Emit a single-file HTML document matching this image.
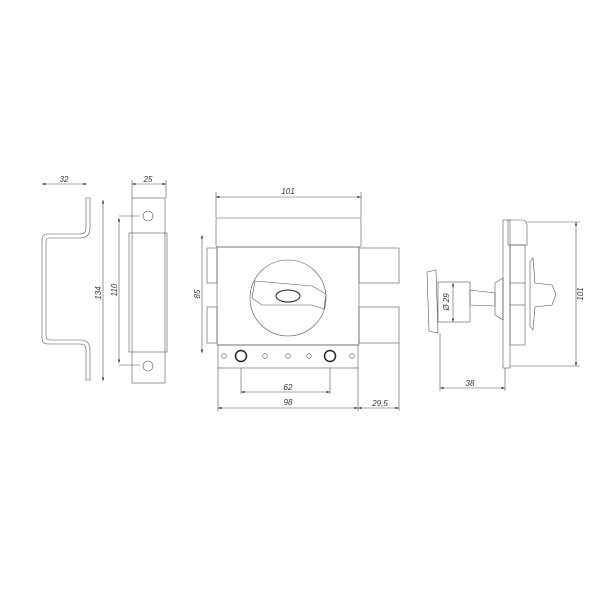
<!DOCTYPE html>
<html><head><style>body{margin:0;background:#fff}svg{display:block}</style></head><body>
<svg width="600" height="600" viewBox="0 0 600 600" xmlns="http://www.w3.org/2000/svg" font-family="Liberation Sans, sans-serif" font-size="8" font-style="italic" fill="none" stroke="#333" stroke-width="0.8">
<defs><marker id="a" viewBox="0 0 6 4" refX="6" refY="2" markerWidth="6" markerHeight="4" orient="auto-start-reverse"><path d="M0,0L6,2L0,4z" fill="#333" stroke="none"/></marker></defs>
<g stroke="#555" stroke-width="0.6">
<path d="M86,198 L86,228 Q86,234 80,234 L48,234 Q42,234 42,240 L42,338 Q42,344 48,344 L80,344 Q86,344 86,350 L86,380 L90,380 L90,350 Q90,340 80,340 L50,340 Q46,340 46,336 L46,242 Q46,238 50,238 L80,238 Q90,238 90,228 L90,198 Z"/>
<line x1="42" y1="184" x2="87" y2="184" marker-start="url(#a)" marker-end="url(#a)"/>
<line x1="103" y1="200" x2="103" y2="381" marker-start="url(#a)" marker-end="url(#a)"/>
<rect x="132" y="198" width="33" height="185"/>
<rect x="129" y="233" width="38" height="119"/>
<circle cx="148" cy="216" r="5"/><circle cx="148" cy="366" r="5"/>
<line x1="132" y1="184" x2="166" y2="184" marker-start="url(#a)" marker-end="url(#a)"/>
<line x1="132" y1="180" x2="132" y2="198"/><line x1="166" y1="180" x2="166" y2="198"/>
<line x1="119" y1="218" x2="119" y2="363" marker-start="url(#a)" marker-end="url(#a)"/>
<line x1="119" y1="216" x2="140" y2="216"/><line x1="119" y1="365" x2="140" y2="365"/>
<rect x="216" y="218" width="145" height="29" rx="2"/>
<rect x="217" y="247" width="142" height="98"/>
<rect x="207" y="248" width="10" height="35"/><rect x="207" y="307" width="10" height="36"/>
<rect x="359" y="248" width="40" height="35"/><rect x="359" y="307" width="40" height="36"/>
<circle cx="288" cy="298" r="38"/>
<path d="M255,281 L312,286 L326,294 L324,309 L312,305 L262,305 L252,298 Z"/>
<ellipse cx="288" cy="296" rx="12" ry="6" stroke="#222" stroke-width="1"/>
<rect x="218" y="345" width="140" height="23"/>
<circle cx="224" cy="356" r="2.3"/><circle cx="265" cy="356" r="2.3"/><circle cx="288" cy="356" r="2.3"/><circle cx="309" cy="356" r="2.3"/><circle cx="352" cy="356" r="2.3"/>
<circle cx="241" cy="356" r="5.5" stroke="#222" stroke-width="1.5"/><circle cx="330" cy="356" r="5.5" stroke="#222" stroke-width="1.5"/>
<line x1="216" y1="197" x2="361" y2="197" marker-start="url(#a)" marker-end="url(#a)"/>
<line x1="216" y1="192" x2="216" y2="218"/><line x1="361" y1="192" x2="361" y2="218"/>
<line x1="202" y1="235" x2="202" y2="353" marker-start="url(#a)" marker-end="url(#a)"/>
<line x1="241" y1="368" x2="241" y2="394"/><line x1="330" y1="368" x2="330" y2="394"/>
<line x1="241" y1="392" x2="330" y2="392" marker-start="url(#a)" marker-end="url(#a)"/>
<line x1="218" y1="408" x2="358" y2="408" marker-start="url(#a)" marker-end="url(#a)"/>
<line x1="358" y1="408" x2="399" y2="408" marker-start="url(#a)" marker-end="url(#a)"/>
<line x1="218" y1="368" x2="218" y2="411"/><line x1="358" y1="368" x2="358" y2="411"/><line x1="399" y1="343" x2="399" y2="411"/>
<rect x="503" y="220" width="7" height="148"/>
<path d="M508,220 L522,220 Q527,220 527,226 L527,245 L508,245 Z"/>
<rect x="510" y="245" width="15" height="100"/>
<line x1="510" y1="283" x2="525" y2="283"/><line x1="510" y1="305" x2="525" y2="305"/>
<path d="M530,262 L533,258 L535,283 L552,285 L556,294 L552,305 L535,307 L533,330 L530,326 Z"/>
<path d="M495,283 L503,278 L503,320 L495,315 Z"/>
<path d="M427,272 L436,270 L438,333 L429,331 Z"/>
<rect x="438" y="282" width="32" height="40"/>
<path d="M470,290 L495,293 L495,306 L470,305 Z"/>
<line x1="576" y1="222" x2="576" y2="366" marker-start="url(#a)" marker-end="url(#a)"/>
<line x1="527" y1="222" x2="580" y2="222"/><line x1="510" y1="366" x2="580" y2="366"/>
<line x1="440" y1="388" x2="505" y2="388" marker-start="url(#a)" marker-end="url(#a)"/>
<line x1="440" y1="333" x2="440" y2="391"/><line x1="505" y1="368" x2="505" y2="391"/>
<line x1="453" y1="283" x2="453" y2="322" marker-start="url(#a)" marker-end="url(#a)"/>
</g>
<g fill="#333" stroke="none">
<text x="64" y="182" text-anchor="middle">32</text>
<text x="148" y="182" text-anchor="middle">25</text>
<text transform="translate(101,293) rotate(-90)" text-anchor="middle">134</text>
<text transform="translate(117,290) rotate(-90)" text-anchor="middle">110</text>
<text x="288" y="194" text-anchor="middle">101</text>
<text transform="translate(200,294) rotate(-90)" text-anchor="middle">85</text>
<text x="288" y="390" text-anchor="middle">62</text>
<text x="288" y="405" text-anchor="middle">98</text>
<text x="380" y="406" text-anchor="middle">29,5</text>
<text transform="translate(583,294) rotate(-90)" text-anchor="middle">101</text>
<text x="470" y="386" text-anchor="middle">38</text>
<text transform="translate(449,302) rotate(-90)" text-anchor="middle">Ø 29</text>
</g>
</svg>
</body></html>
